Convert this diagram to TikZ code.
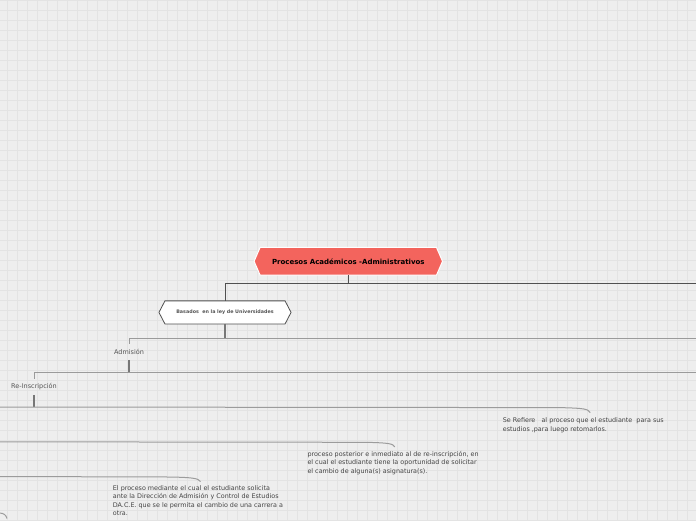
\documentclass[tikz,border=0pt]{standalone}
\usepackage{fontspec}
\setmainfont{DejaVu Sans}
\usetikzlibrary{backgrounds,calc}
\definecolor{bg}{HTML}{EEEEEE}
\definecolor{gridc}{HTML}{E3E3E3}
\definecolor{mainred}{HTML}{F3645D}
\definecolor{txt}{HTML}{444444}
\definecolor{lab}{HTML}{555555}
\definecolor{darkline}{HTML}{505050}
\definecolor{stubline}{HTML}{777777}
\definecolor{midline}{HTML}{9A9A9A}
\definecolor{curveline}{HTML}{9C9C9C}
\newcommand{\mkhex}[3]{%
  \path[#3] (#1.west) -- ([xshift=#2]#1.north west) -- ([xshift=-#2]#1.north east)
    -- (#1.east) -- ([xshift=-#2]#1.south east) -- ([xshift=#2]#1.south west) -- cycle;}
\tikzset{
  mainbox/.style={inner sep=0pt, minimum width=188, minimum height=27.3,
    font=\fontsize{7}{8}\selectfont\bfseries, text=black},
  subbox/.style={inner sep=0pt, minimum width=131.7, minimum height=22.7,
    font=\fontsize{4.8}{6}\selectfont\bfseries, text=lab},
  lab/.style={inner sep=0pt, minimum height=16, font=\fontsize{6.5}{8}\selectfont, text=lab},
  para/.style={inner sep=0pt, anchor=north west, align=left,
    font=\fontsize{6.4}{8.6}\selectfont, text=txt},
  dline/.style={draw=darkline, line width=1},
  sline/.style={draw=stubline, line width=1.2},
  hline/.style={draw=midline, line width=1},
  cline/.style={draw=curveline, line width=1},
}
\begin{document}
\begin{tikzpicture}[x=1pt, y=-1pt]
\useasboundingbox (0,0) rectangle (696,520);
\begin{scope}[on background layer]
  \fill[bg] (0,0) rectangle (696,520);
  \foreach \gx in {7,17,...,697} \draw[gridc, line width=0.8] (\gx,0) -- (\gx,520);
  \foreach \gy in {0,10,...,520} \draw[gridc, line width=0.8] (0,\gy) -- (696,\gy);
\end{scope}

% nodes
\node[mainbox] (main) at (348.3,261.3) {Procesos Académicos -Administrativos};
\node[subbox] (basados) at (225,312.4) {Basados\ \ en la ley de Universidades};
\node[lab] (admision) at (129,351.7) {Admisión};
\node[lab] (reins) at (34,386.7) {Re-Inscripción};
\node[para] (t1) at (502.7,417.6) {Se Refiere\ \ \ al proceso que el estudiante\ \ para sus\\estudios ,para luego retomarlos.};
\node[para] (t2) at (307.3,450.9) {proceso posterior e inmediato al de re-inscripción, en\\el cual el estudiante tiene la oportunidad de solicitar\\el cambio de alguna(s) asignatura(s).};
\node[para] (t3) at (112.7,485.1) {El proceso mediante el cual el estudiante solicita\\ante la Dirección de Admisión y Control de Estudios\\DA.C.E. que se le permita el cambio de una carrera a\\otra.};

\begin{scope}[on background layer]
  \mkhex{main}{6}{fill=mainred, draw=white, line width=1}
  \mkhex{basados}{6}{fill=white, draw=darkline, line width=0.8}
\end{scope}

% free ends
\coordinate (r1) at (697,283.3);
\coordinate (r2) at (697,338.3);
\coordinate (r3) at (697,372.3);
\coordinate (c1) at (-1,407);
\coordinate (c2) at (-1,441.8);
\coordinate (c3) at (-1,476.5);
\coordinate (c4) at (-1,513);

% connectors
\draw[dline] (main.south) -- (main.south |- r1);
\draw[dline] (basados.north) |- (r1);
\draw[sline] (basados.south) -- (basados.south |- r2);
\draw[hline] (admision.north) |- (r2);
\draw[sline] (admision.south) -- (admision.south |- r3);
\draw[hline] (reins.north) |- (r3);
\draw[sline] (reins.south) -- (reins.south |- c1);

\draw[cline] (c1) -- (560,407.6) .. controls (585,408.2) and (588,409) .. ($(t1.north west)+(87.5,-5)$);
\draw[cline] (c2) -- (365,442.3) .. controls (390,442.8) and (393,443.8) .. ($(t2.north west)+(87.5,-4)$);
\draw[cline] (c3) -- (170,477) .. controls (195,477.5) and (198,478.5) .. ($(t3.north west)+(87.8,-3.5)$);
\draw[cline] (c4) .. controls (4,513) and (6,515) .. (7,518.5);
\end{tikzpicture}
\end{document}
